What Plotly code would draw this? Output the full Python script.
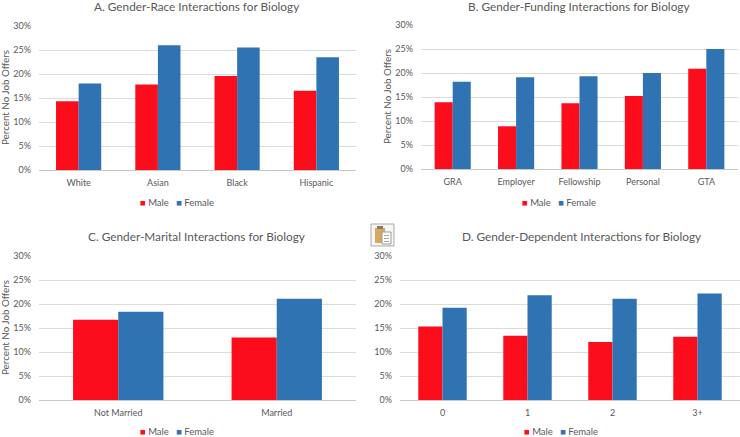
import plotly.graph_objects as go

race = ["White", "Asian", "Black", "Hispanic"]
race_male = [14.3, 17.8, 19.6, 16.5]
race_female = [18.0, 26.0, 25.5, 23.5]
funding = ["GRA", "Employer", "Fellowship", "Personal", "GTA"]
funding_male = [13.9, 8.9, 13.7, 15.2, 20.9]
funding_female = [18.2, 19.1, 19.3, 20.0, 25.0]
marital = ["Not Married", "Married"]
marital_male = [16.7, 13.0]
marital_female = [18.4, 21.1]
dependent = ["0", "1", "2", "3+"]
dependent_male = [15.3, 13.4, 12.1, 13.2]
dependent_female = [19.2, 21.8, 21.1, 22.2]

titles = ["A. Gender-Race Interactions for Biology", "B. Gender-Funding Interactions for Biology",
          "C. Gender-Marital Interactions for Biology", "D. Gender-Dependent Interactions for Biology"]
W, H = 740, 437
boxes = [(39, 356, 26, 170), (421, 738, 25, 169), (39, 356, 256, 400), (400, 740, 256, 400)]
legend_pos = [(177, 203), (559, 202), (177, 431), (561, 431)]
title_pos = [(196, 7), (579, 7), (196, 236), (581, 236)]
ytitle_x = [5, 387, 5, None]
data = [(race, race_male, race_female), (funding, funding_male, funding_female),
        (marital, marital_male, marital_female), (dependent, dependent_male, dependent_female)]
RED, BLUE, TXT, GRID = "#fb0d1c", "#3073b2", "#595959", "#dcdcdc"
FONT = "Lato"

fig = go.Figure()
layout = dict(width=W, height=H, margin=dict(l=0, r=0, t=0, b=0), paper_bgcolor="white", plot_bgcolor="white",
              barmode="group", bargap=0.43, bargroupgap=0, showlegend=False, font=dict(family=FONT, color=TXT, size=9),
              annotations=[], shapes=[])
ticks = [0, 5, 10, 15, 20, 25, 30]
for i, ((cats, m, f), (x0, x1, y0, y1)) in enumerate(zip(data, boxes)):
    s = "" if i == 0 else str(i + 1)
    fig.add_bar(x=cats, y=m, name="Male", marker=dict(color=RED, line=dict(width=0)), xaxis="x" + s, yaxis="y" + s)
    fig.add_bar(x=cats, y=f, name="Female", marker=dict(color=BLUE, line=dict(width=0)), xaxis="x" + s, yaxis="y" + s)
    layout["xaxis" + s] = dict(domain=[x0 / W, x1 / W], anchor="y" + s, showline=True, linecolor="#c8c8c8", linewidth=1,
                               ticks="", tickfont=dict(size=9), showgrid=False, automargin=False, ticklabelstandoff=4)
    layout["yaxis" + s] = dict(domain=[1 - y1 / H, 1 - y0 / H], anchor="x" + s, range=[0, 30], tickvals=ticks,
                               ticktext=[f"{v}%" for v in ticks], gridcolor=GRID, gridwidth=1.3, zeroline=False,
                               tickfont=dict(size=9), ticks="", automargin=False, ticklabelstandoff=7)
    if ytitle_x[i] is not None:
        layout["annotations"].append(dict(text="Percent No Job Offers", x=ytitle_x[i] / W, y=1 - (y0 + y1) / 2 / H,
                                          xref="paper", yref="paper", textangle=-90, showarrow=False,
                                          xanchor="center", yanchor="middle", font=dict(size=9.8, color=TXT)))
    lx, ly = legend_pos[i]
    layout["annotations"].append(dict(
        text=f"<span style='color:{RED}'>■</span> Male   <span style='color:{BLUE}'>■</span> Female",
        x=lx / W, y=1 - ly / H, xref="paper", yref="paper", xanchor="center", yanchor="middle",
        showarrow=False, font=dict(size=9.5, color=TXT)))
    tx, ty = title_pos[i]
    layout["annotations"].append(dict(text=titles[i], x=tx / W, y=1 - ty / H, xref="paper", yref="paper",
                                      xanchor="center", yanchor="middle", showarrow=False, font=dict(size=11.8, color=TXT)))

# clipboard icon between the panels
def rect(x0, y0, x1, y1, fill, line="rgba(0,0,0,0)", w=1):
    return dict(type="rect", xref="paper", yref="paper", x0=x0 / W, x1=x1 / W, y0=1 - y0 / H, y1=1 - y1 / H,
                fillcolor=fill, line=dict(color=line, width=w), layer="above")
layout["shapes"] += [rect(371, 224, 394, 246, "#f6f6f6", "#a9a9a9"), rect(375, 228, 385, 243, "#d9a860"),
                     rect(377, 226, 383, 229, "#8a7a5e"), rect(382, 232, 391, 244, "#ffffff", "#9a9a9a"),
                     rect(384, 235, 389, 236, "#a8a8a8"), rect(384, 238, 389, 239, "#a8a8a8"), rect(384, 241, 389, 242, "#a8a8a8")]
fig.update_layout(**layout)
fig.write_html("out.html", config=dict(displayModeBar=False), post_script="document.body.style.margin='0';")
